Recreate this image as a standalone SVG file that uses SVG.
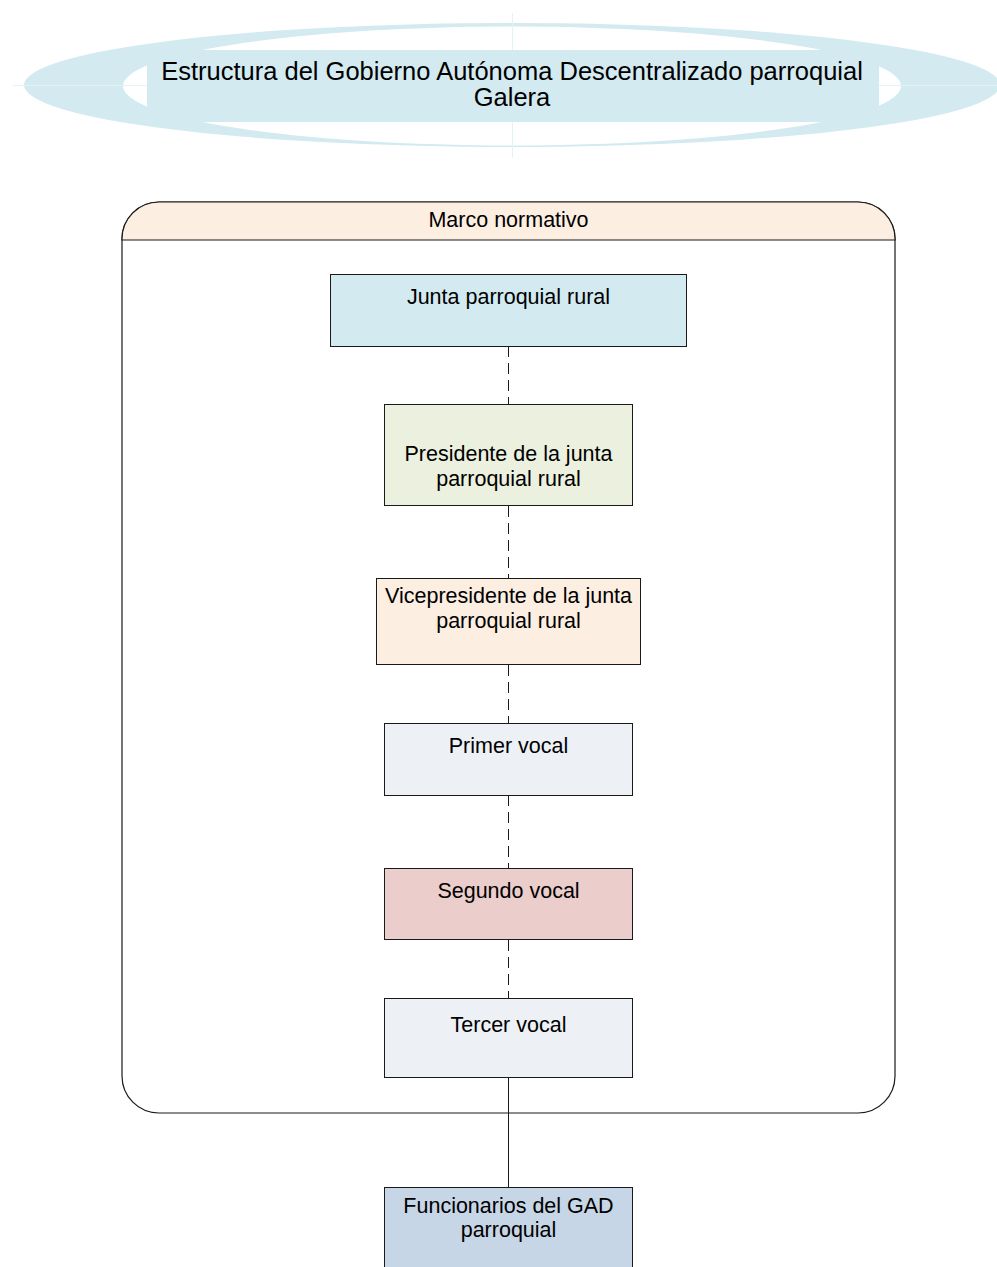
<svg xmlns="http://www.w3.org/2000/svg" width="997" height="1267" viewBox="0 0 997 1267">
<style>
text{font-family:"Liberation Sans",Arial,sans-serif;fill:#000;text-anchor:middle}
.t{font-size:25.5px}
.b{font-size:21.5px}
.box{stroke:#1a1a1a;stroke-width:1}
.dash{stroke:#1a1a1a;stroke-width:1;stroke-dasharray:11,6;fill:none}
.solid{stroke:#1a1a1a;stroke-width:1;fill:none}
</style>
<rect width="997" height="1267" fill="#fff"/>
<g id="title">
<ellipse cx="512" cy="85" rx="488" ry="62" fill="#D3EAF0"/>
<ellipse cx="512" cy="86" rx="389" ry="59.5" fill="#fff"/>
<line x1="13" y1="85.5" x2="997" y2="85.5" stroke="#E3F2F6" stroke-width="1"/>
<line x1="512.5" y1="13" x2="512.5" y2="158" stroke="#E3F2F6" stroke-width="1"/>
<rect x="147" y="50" width="732" height="72" fill="#D3EAF0"/>
<text class="t" x="512" y="80">Estructura del Gobierno Autónoma Descentralizado parroquial</text>
<text class="t" x="512" y="106">Galera</text>
</g>
<g id="marco">
<path d="M122,1076 L122,239 A37,37 0 0 1 159,202 L858,202 A37,37 0 0 1 895,239 L895,1076 A37,37 0 0 1 858,1113 L159,1113 A37,37 0 0 1 122,1076 Z" fill="#fff" stroke="#1a1a1a" stroke-width="1.2"/>
<path d="M122,240 L122,239 A37,37 0 0 1 159,202 L858,202 A37,37 0 0 1 895,239 L895,240 Z" fill="#FDEEE2" stroke="#1a1a1a" stroke-width="1.2"/>
<text class="b" x="508.5" y="227">Marco normativo</text>
</g>
<g id="connectors">
<line class="dash" x1="508.5" y1="346" x2="508.5" y2="404"/>
<line class="dash" x1="508.5" y1="506" x2="508.5" y2="578"/>
<line class="dash" x1="508.5" y1="665" x2="508.5" y2="723"/>
<line class="dash" x1="508.5" y1="795" x2="508.5" y2="868"/>
<line class="dash" x1="508.5" y1="940" x2="508.5" y2="998"/>
<line class="solid" x1="508.5" y1="1078" x2="508.5" y2="1187"/>
</g>
<g id="junta">
<rect class="box" x="330.5" y="274.5" width="356" height="72" fill="#D3EAF0"/>
<text class="b" x="508.5" y="304">Junta parroquial rural</text>
</g>
<g id="presidente">
<rect class="box" x="384.5" y="404.5" width="248" height="101" fill="#EBF1DE"/>
<text class="b" x="508.5" y="461">Presidente de la junta</text>
<text class="b" x="508.5" y="486">parroquial rural</text>
</g>
<g id="vicepresidente">
<rect class="box" x="376.5" y="578.5" width="264" height="86" fill="#FDEEE2"/>
<text class="b" x="508.5" y="603">Vicepresidente de la junta</text>
<text class="b" x="508.5" y="628">parroquial rural</text>
</g>
<g id="primer">
<rect class="box" x="384.5" y="723.5" width="248" height="72" fill="#EDF1F6"/>
<text class="b" x="508.5" y="753">Primer vocal</text>
</g>
<g id="segundo">
<rect class="box" x="384.5" y="868.5" width="248" height="71" fill="#EBCDCB"/>
<text class="b" x="508.5" y="898">Segundo vocal</text>
</g>
<g id="tercer">
<rect class="box" x="384.5" y="998.5" width="248" height="79" fill="#EDF1F6"/>
<text class="b" x="508.5" y="1032">Tercer vocal</text>
</g>
<g id="funcionarios">
<rect class="box" x="384.5" y="1187.5" width="248" height="90" fill="#C6D6E6"/>
<text class="b" x="508.5" y="1213">Funcionarios del GAD</text>
<text class="b" x="508.5" y="1237">parroquial</text>
</g>
</svg>
